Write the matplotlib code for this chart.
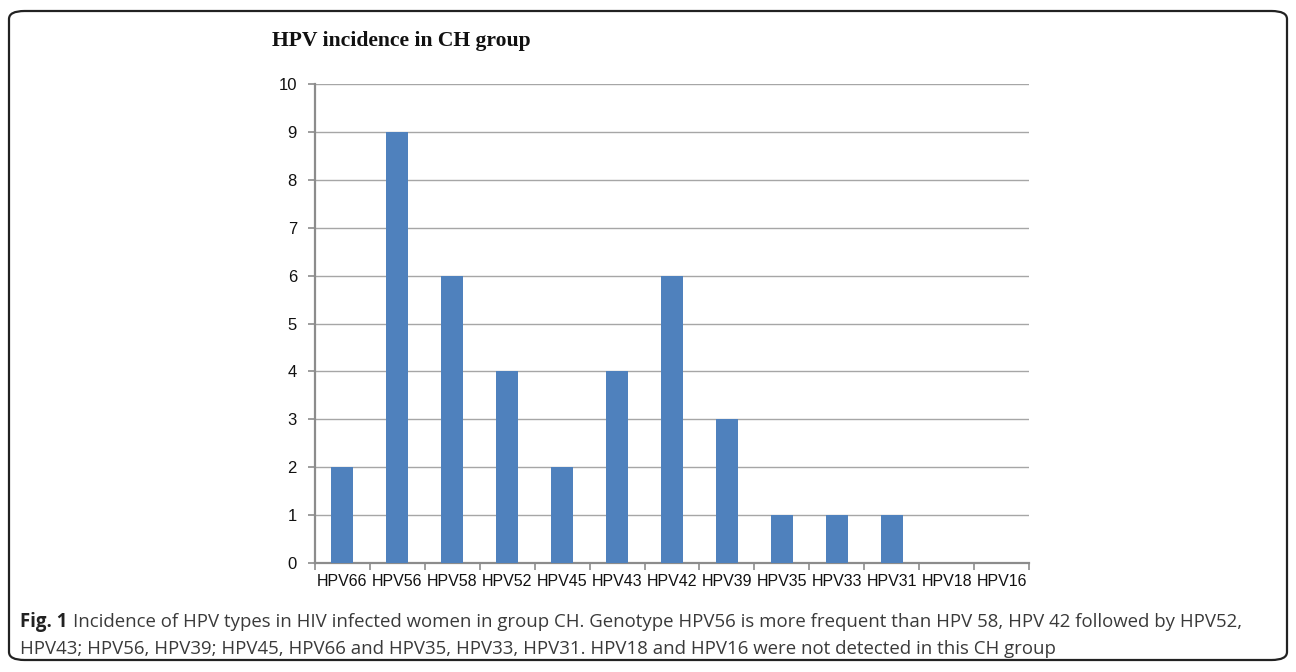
import matplotlib
matplotlib.use("Agg")
import matplotlib.pyplot as plt
from matplotlib.patches import FancyBboxPatch
import numpy as np

categories = ["HPV66", "HPV56", "HPV58", "HPV52", "HPV45", "HPV43", "HPV42",
              "HPV39", "HPV35", "HPV33", "HPV31", "HPV18", "HPV16"]
counts = [2, 9, 6, 4, 2, 4, 6, 3, 1, 1, 1, 0, 0]
y_ticks = list(range(0, 11))

W, H = 1296, 672
fig = plt.figure(figsize=(W / 100, H / 100), dpi=100)

# rounded frame around the figure
frame = FancyBboxPatch((9 / W, 12 / H), (1287 - 9) / W, (661 - 12) / H,
                       boxstyle="round,pad=0,rounding_size=0.012",
                       transform=fig.transFigure, fill=False,
                       edgecolor="#222222", linewidth=1.6, zorder=0)
fig.patches.append(frame)

ax = fig.add_axes([315 / W, (H - 563) / H, (1029 - 315) / W, (563 - 84) / H])
x = np.arange(len(categories))
ax.bar(x, counts, width=0.4, color="#4F81BD", zorder=3)

ax.set_xlim(-0.5, len(categories) - 0.5)
ax.set_ylim(0, 10)
ax.set_yticks(y_ticks)
ax.yaxis.grid(True, color="#A6A6A6", linewidth=1.0, zorder=0)
ax.set_axisbelow(True)

grey = "#8C8C8C"
for side in ("top", "right"):
    ax.spines[side].set_visible(False)
for side in ("left", "bottom"):
    ax.spines[side].set_color(grey)
    ax.spines[side].set_linewidth(1.6)

ax.set_xticks(x)
ax.set_xticklabels(categories, family="Liberation Sans", fontsize=11.5, color="#111111")
ax.tick_params(axis="x", which="major", length=0, pad=8)
ax.set_xticks(np.arange(-0.5, len(categories)), minor=True)
ax.tick_params(axis="x", which="minor", length=5, color=grey, width=1.2, direction="out")
ax.tick_params(axis="y", length=5, color=grey, width=1.2, pad=8,
               labelsize=12, labelcolor="#111111")
for lbl in ax.get_yticklabels():
    lbl.set_family("Liberation Sans")

fig.text(272 / W, 1 - 41 / H, "HPV incidence in CH group", family="Liberation Serif",
         fontweight="bold", fontsize=15.6, va="center", ha="left", color="#111111")

cap_kw = dict(family="Open Sans", fontsize=13.4, color="#3A3A3A", va="baseline", ha="left")
t1 = fig.text(20 / W, 1 - 627 / H, "Fig. 1", fontweight="bold", **{**cap_kw, "color": "#222222"})
fig.canvas.draw()
bb = t1.get_window_extent()
fig.text(bb.x1 / W + 6 / W, 1 - 627 / H,
         "Incidence of HPV types in HIV infected women in group CH. Genotype HPV56 is more "
         "frequent than HPV 58, HPV 42 followed by HPV52,", **cap_kw)
fig.text(20 / W, 1 - 654 / H,
         "HPV43; HPV56, HPV39; HPV45, HPV66 and HPV35, HPV33, HPV31. HPV18 and HPV16 were "
         "not detected in this CH group", **cap_kw)

fig.savefig("out.png", dpi=100)
